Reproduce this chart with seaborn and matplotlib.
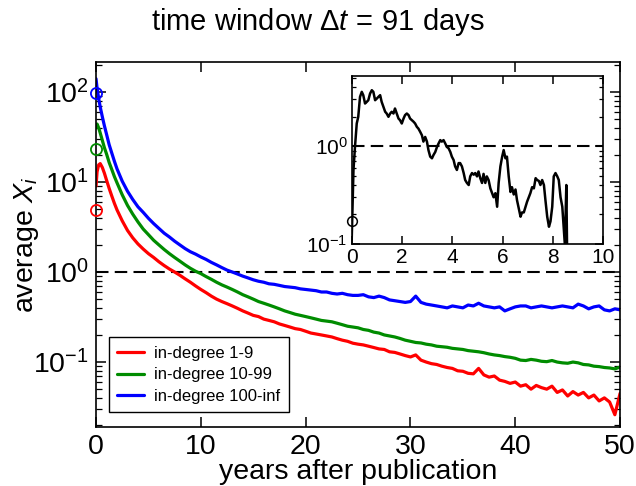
import numpy as np
import pandas as pd
import seaborn as sns
import matplotlib
matplotlib.use("Agg")
import matplotlib.pyplot as plt

# values
years = [0, 0.1, 0.25, 0.4, 0.6, 0.8, 1.0, 1.25, 1.5, 1.75,
         2.0, 2.5, 3.0, 3.5, 4.0, 4.5, 5.0, 5.5, 6.0, 6.5,
         7.0, 7.5, 8.0, 8.5, 9.0, 9.5, 10.0, 10.5, 11.0, 11.5,
         12.0, 12.5, 13.0, 13.5, 14.0, 14.5, 15.0, 15.5, 16.0, 16.5,
         17.0, 17.5, 18.0, 18.5, 19.0, 19.5, 20.0, 20.5, 21.0, 21.5,
         22.0, 22.5, 23.0, 23.5, 24.0, 24.5, 25.0, 25.5, 26.0, 26.5,
         27.0, 27.5, 28.0, 28.5, 29.0, 29.5, 30.0, 30.5, 31.0, 31.5,
         32.0, 32.5, 33.0, 33.5, 34.0, 34.5, 35.0, 35.5, 36.0, 36.5,
         37.0, 37.5, 38.0, 38.5, 39.0, 39.5, 40.0, 40.5, 41.0, 41.5,
         42.0, 42.5, 43.0, 43.5, 44.0, 44.5, 45.0, 45.5, 46.0, 46.5,
         47.0, 47.5, 48.0, 48.5, 49.0, 49.5, 50.0]

avg_low = [9, 13, 15.5, 16, 14.5, 12.5, 10.5, 8.5, 7.0, 5.8,
           4.9, 3.7, 2.9, 2.4, 2.05, 1.8, 1.6, 1.45, 1.3, 1.18,
           1.08, 1.0, 0.92, 0.84, 0.77, 0.7, 0.64, 0.59, 0.54, 0.5,
           0.47, 0.445, 0.42, 0.395, 0.37, 0.35, 0.33, 0.32, 0.3, 0.29,
           0.28, 0.265, 0.255, 0.245, 0.235, 0.23, 0.22, 0.21, 0.205, 0.2,
           0.195, 0.19, 0.182, 0.175, 0.17, 0.162, 0.158, 0.155, 0.15, 0.145,
           0.14, 0.138, 0.13, 0.128, 0.123, 0.118, 0.114, 0.12, 0.105, 0.1,
           0.096, 0.094, 0.09, 0.087, 0.085, 0.08, 0.079, 0.075, 0.074, 0.085,
           0.072, 0.068, 0.07, 0.063, 0.061, 0.058, 0.06, 0.054, 0.056, 0.05,
           0.055, 0.052, 0.05, 0.054, 0.046, 0.049, 0.042, 0.047, 0.043, 0.046,
           0.04, 0.043, 0.037, 0.04, 0.036, 0.026, 0.045]

avg_mid = [40, 44, 40, 35, 29, 24, 20.5, 16.5, 13.8, 11.5,
           9.8, 7.2, 5.5, 4.4, 3.6, 3.0, 2.6, 2.25, 2.0, 1.78,
           1.6, 1.45, 1.32, 1.2, 1.1, 1.02, 0.96, 0.89, 0.83, 0.77,
           0.72, 0.68, 0.64, 0.6, 0.56, 0.53, 0.5, 0.47, 0.45, 0.43,
           0.41, 0.39, 0.37, 0.355, 0.34, 0.33, 0.32, 0.31, 0.3, 0.29,
           0.285, 0.28, 0.27, 0.26, 0.25, 0.245, 0.24, 0.23, 0.225, 0.215,
           0.21, 0.2, 0.195, 0.19, 0.183, 0.175, 0.17, 0.165, 0.163, 0.158,
           0.155, 0.15, 0.148, 0.146, 0.142, 0.14, 0.138, 0.134, 0.132, 0.13,
           0.127, 0.123, 0.12, 0.118, 0.115, 0.113, 0.11, 0.105, 0.104, 0.107,
           0.105, 0.102, 0.101, 0.104, 0.1, 0.098, 0.097, 0.1, 0.098, 0.094,
           0.093, 0.09, 0.089, 0.087, 0.086, 0.084, 0.088]

avg_high = [140, 110, 85, 68, 53, 42, 34, 26, 21, 17,
            14, 10.2, 7.9, 6.4, 5.3, 4.6, 3.95, 3.45, 3.05, 2.7,
            2.45, 2.2, 2.0, 1.82, 1.68, 1.58, 1.47, 1.38, 1.28, 1.2,
            1.12, 1.05, 1.0, 0.95, 0.9, 0.86, 0.82, 0.79, 0.77, 0.74,
            0.73, 0.71, 0.69, 0.68, 0.67, 0.65, 0.64, 0.63, 0.62, 0.6,
            0.6, 0.58, 0.57, 0.58, 0.56, 0.55, 0.55, 0.56, 0.53, 0.52,
            0.54, 0.52, 0.49, 0.48, 0.47, 0.46, 0.47, 0.54, 0.46, 0.44,
            0.43, 0.42, 0.41, 0.4, 0.42, 0.41, 0.4, 0.43, 0.42, 0.45,
            0.42, 0.41, 0.4, 0.41, 0.37, 0.39, 0.41, 0.42, 0.42, 0.4,
            0.41, 0.42, 0.41, 0.4, 0.41, 0.42, 0.41, 0.4, 0.44, 0.42,
            0.39, 0.41, 0.42, 0.38, 0.37, 0.39, 0.38]

start_vals = [4.9, 23, 97]   # open circles at t=0
labels = ["in-degree 1-9", "in-degree 10-99", "in-degree 100-inf"]
colors = ["#ff0000", "#008c00", "#0000ff"]

inset_years = [0, 0.03, 0.07, 0.13, 0.2, 0.26, 0.33, 0.4, 0.46, 0.53,
               0.6, 0.66, 0.73, 0.8, 0.86, 0.93, 1.0, 1.06, 1.13, 1.19,
               1.26, 1.33, 1.39, 1.46, 1.53, 1.59, 1.66, 1.72, 1.79, 1.86,
               1.92, 1.99, 2.06, 2.12, 2.19, 2.26, 2.32, 2.39, 2.46, 2.52,
               2.59, 2.65, 2.72, 2.79, 2.85, 2.92, 2.99, 3.05, 3.12, 3.19,
               3.25, 3.32, 3.39, 3.45, 3.52, 3.58, 3.65, 3.72, 3.78, 3.85,
               3.92, 3.98, 4.05, 4.11, 4.18, 4.25, 4.31, 4.38, 4.45, 4.51,
               4.58, 4.65, 4.71, 4.78, 4.85, 4.91, 4.98, 5.04, 5.11, 5.18,
               5.24, 5.31, 5.37, 5.44, 5.51, 5.58, 5.64, 5.71, 5.78, 5.84,
               5.91, 5.98, 6.04, 6.11, 6.17, 6.24, 6.31, 6.37, 6.44, 6.51,
               6.57, 6.64, 6.71, 6.77, 6.84, 6.91, 6.97, 7.04, 7.10, 7.17,
               7.24, 7.31, 7.37, 7.44, 7.50, 7.57, 7.64, 7.70, 7.77, 7.84,
               7.90, 7.97, 8.03, 8.10, 8.17, 8.23, 8.30, 8.37, 8.43, 8.47,
               8.50, 8.53, 8.56]
inset_vals = [0.11, 0.22, 0.57, 0.98, 1.70, 1.99, 3.18, 3.58, 3.31, 2.72,
              2.83, 2.94, 3.44, 3.72, 3.58, 2.94, 3.06, 3.18, 3.31, 2.83,
              2.52, 2.24, 2.15, 1.99, 2.15, 2.24, 2.15, 2.42, 2.15, 1.91,
              1.84, 1.70, 1.91, 2.07, 2.15, 2.07, 1.91, 1.84, 1.77, 1.70,
              1.57, 1.51, 1.40, 1.29, 1.11, 1.24, 1.11, 0.91, 0.78, 0.75,
              0.81, 0.87, 0.98, 1.06, 1.15, 1.11, 1.15, 1.06, 0.98, 0.95,
              0.87, 0.78, 0.72, 0.62, 0.57, 0.67, 0.67, 0.62, 0.53, 0.45,
              0.42, 0.40, 0.49, 0.53, 0.51, 0.53, 0.49, 0.55, 0.47, 0.42,
              0.52, 0.42, 0.49, 0.45, 0.37, 0.33, 0.30, 0.33, 0.24, 0.42,
              0.62, 0.78, 0.91, 0.75, 0.78, 0.49, 0.34, 0.38, 0.32, 0.36,
              0.28, 0.23, 0.19, 0.21, 0.21, 0.24, 0.27, 0.30, 0.33, 0.38,
              0.37, 0.47, 0.45, 0.44, 0.40, 0.45, 0.40, 0.28, 0.19, 0.15,
              0.17, 0.24, 0.49, 0.53, 0.49, 0.45, 0.30, 0.24, 0.14, 0.10,
              0.19, 0.40, 0.09]
inset_start = 0.17

sns.set_style("ticks")
plt.rcParams['font.family'] = ['Liberation Sans', 'DejaVu Sans']
plt.rcParams['mathtext.fontset'] = 'custom'
plt.rcParams['mathtext.rm'] = 'Liberation Sans'
plt.rcParams['mathtext.it'] = 'Liberation Sans:italic'
plt.rcParams['mathtext.bf'] = 'Liberation Sans:bold'
plt.rcParams.update({'text.color': 'black', 'axes.labelcolor': 'black',
                     'xtick.color': 'black', 'ytick.color': 'black',
                     'axes.edgecolor': 'black'})

fig = plt.figure(figsize=(6.36, 4.86), dpi=100)
ax = fig.add_axes([0.151, 0.1214, 0.824, 0.751])

series = [avg_low, avg_mid, avg_high]
for vals, lab, col in zip(series, labels, colors):
    df = pd.DataFrame({"year": years, "avg": vals})
    sns.lineplot(data=df, x="year", y="avg", color=col, lw=2.3, label=lab,
                 estimator=None, ax=ax)
for v, col in zip(start_vals, colors):
    ax.plot([0], [v], "o", mfc="none", mec=col, ms=8, mew=1.3, clip_on=False, zorder=5)

ax.axhline(1, color="k", ls=(0, (6, 3)), lw=1.5, zorder=1)
ax.set_yscale("log")
ax.set_xlim(0, 50)
ax.set_ylim(0.019, 215)
ax.set_xticks([0, 10, 20, 30, 40, 50])
ax.tick_params(which="both", direction="in", top=True, right=True)
ax.tick_params(which="major", length=7, width=1.1, labelsize=20.5, pad=5)
ax.tick_params(which="minor", length=4, width=0.9)
for s in ax.spines.values():
    s.set_linewidth(1.2)
ax.set_xlabel("years after publication", fontsize=20.5, labelpad=-1)
ax.set_ylabel("average $X_i$", fontsize=20.5)
ax.yaxis.set_label_coords(-0.105, 0.5)

leg = ax.legend(loc="lower left", bbox_to_anchor=(0.025, 0.04), borderaxespad=0,
                fontsize=12, frameon=True, fancybox=False, framealpha=1,
                edgecolor="black", handlelength=1.6, handletextpad=0.6,
                labelspacing=0.4, borderpad=0.5)
leg.get_frame().set_linewidth(1.0)

fig.text(0.5, 1 - 22 / 486, r"time window $\Delta t\,=\,91$ days", ha="center",
         va="center", fontsize=21)

# inset
axin = fig.add_axes([0.553, 0.498, 0.3956, 0.3457])
dfi = pd.DataFrame({"year": inset_years, "avg": inset_vals})
sns.lineplot(data=dfi, x="year", y="avg", color="black", lw=1.8, estimator=None, ax=axin)
axin.plot([0], [inset_start], "o", mfc="none", mec="black", ms=7, mew=1.1,
          clip_on=False, zorder=5)
axin.axhline(1, color="k", ls=(0, (6, 3)), lw=1.5, zorder=1)
axin.set_yscale("log")
axin.set_xlim(0, 10)
axin.set_ylim(0.1, 5.2)
axin.set_xticks([0, 2, 4, 6, 8, 10])
axin.tick_params(which="both", direction="in", top=True, right=True)
axin.tick_params(which="major", length=6, width=1.1, labelsize=15, pad=3)
axin.tick_params(which="minor", length=3, width=0.9)
for s in axin.spines.values():
    s.set_linewidth(1.2)
axin.set_xlabel("")
axin.set_ylabel("")

fig.savefig("out.png", dpi=100)
